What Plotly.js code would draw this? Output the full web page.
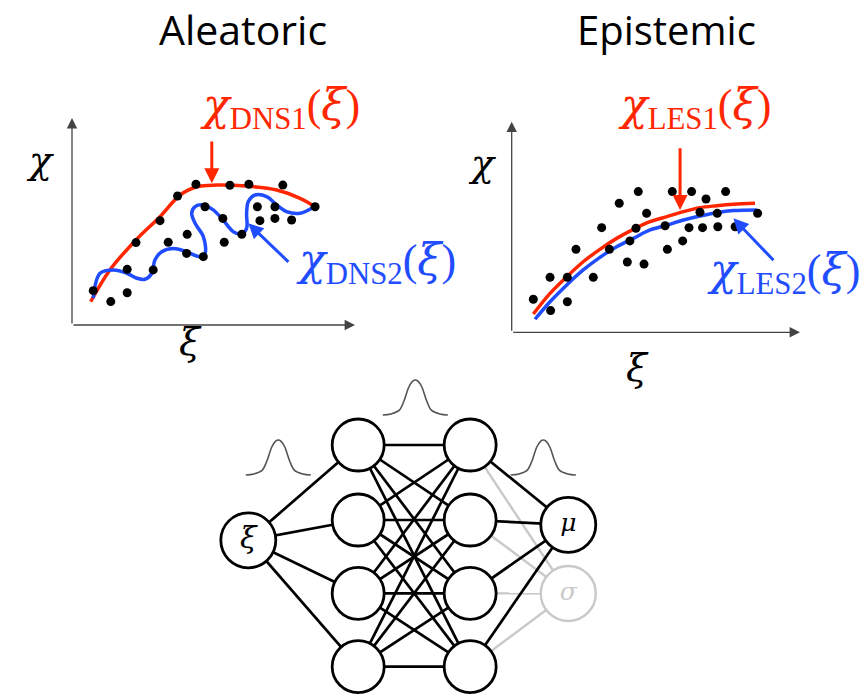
<!DOCTYPE html>
<html><head><meta charset="utf-8">
<script src="https://cdn.plot.ly/plotly-3.0.1.min.js"></script>
<style>html,body{margin:0;padding:0;background:#fff;}#chart{width:866px;height:698px;}</style>
</head><body><div id="chart"></div>
<script>
// ---------- Aleatoric panel (xi, chi in arbitrary units 0-10) ----------
const aleaDotsXi  = [0.75,1.37,1.95,1.95,2.87,2.26,3.40,4.07,4.05,4.64,3.11,3.73,4.38,4.70,5.33,5.38,6.00,5.58,6.25,6.55,6.64,7.17,7.17,7.45,7.76,8.59];
const aleaDotsChi = [1.66,1.13,1.56,2.69,2.66,3.98,4.00,4.38,3.46,3.30,5.04,6.23,6.80,5.71,5.15,4.00,4.38,6.75,6.80,5.71,5.04,5.15,5.71,6.76,5.07,5.71];
const dns1Xi  = [0.66,1.34,2.26,3.11,3.82,4.41,5.11,6.17,7.23,8.06,8.59];
const dns1Chi = [1.13,2.66,4.11,5.23,6.28,6.68,6.76,6.71,6.52,6.12,5.71];
const dns2Xi  = [0.75,0.99,1.47,1.94,2.29,2.58,2.82,2.93,3.17,3.58,4.05,4.52,4.70,4.64,4.35,4.23,4.35,4.64,4.99,5.34,5.70,5.99,6.17,6.17,6.23,6.47,6.88,7.23,7.58,8.06,8.53];
const dns2Chi = [1.29,2.50,2.66,2.50,2.26,2.21,2.50,3.14,3.54,3.70,3.54,3.30,3.46,4.27,4.91,5.40,5.72,5.80,5.56,5.07,4.51,4.40,4.67,5.40,5.96,6.28,6.20,5.80,5.48,5.40,5.69];

// ---------- Epistemic panel ----------
const epiDotsXi  = [0.75,1.35,1.33,1.93,1.93,2.83,2.23,3.12,3.39,3.73,4.01,4.10,4.31,4.39,4.59,4.68,5.32,5.40,5.57,5.93,6.15,6.24,6.53,6.62,6.74,7.13,7.15,7.42,7.75,8.53];
const epiDotsChi = [1.57,1.03,2.61,2.61,1.45,2.61,3.94,4.97,3.94,6.13,3.34,4.34,4.94,6.68,3.24,5.65,5.06,3.94,6.68,4.34,4.97,6.68,5.70,4.97,6.33,5.65,5.01,6.68,5.01,5.65];
const les1Xi  = [0.75,1.33,1.91,2.48,3.06,3.64,4.22,4.80,5.38,5.96,6.53,7.11,7.69,8.44];
const les1Chi = [0.87,1.85,2.64,3.35,3.94,4.46,4.89,5.25,5.49,5.73,5.92,6.01,6.08,6.13];
const les2Xi  = [0.81,1.33,1.91,2.48,3.06,3.64,4.22,4.80,5.38,5.96,6.53,7.11,7.69,8.50];
const les2Chi = [0.62,1.45,2.25,2.96,3.56,4.06,4.46,4.86,5.09,5.33,5.52,5.68,5.78,5.81];

// ---------- Network ----------
const layerX     = [0, 1.03, 2.08, 3];
const hiddenRows = [3, 1.985, 0.993, 0];
const inputRow   = [1.71];
const outputRows = [1.92, 0.99];
const inputLabel = 'ξ';
const outputLabels = ['μ', 'σ'];
const bellShapeX = [-1,-0.75,-0.5,-0.35,-0.2,-0.08,0,0.08,0.2,0.35,0.5,0.75,1];
const bellShapeY = [0,0.03,0.13,0.4,0.8,0.97,1,0.97,0.8,0.4,0.13,0.03,0];
const bellCentersX = [0.281, 1.566, 2.766];
const bellBaseY    = [2.594, 3.406, 2.594];

const RED = '#ff2600', BLUE = '#1f4dff';
const GREEK = 'DejaVu Serif', SERIF = 'Liberation Serif', SANS = 'Open Sans';
const g = s => '<span style="font-family:DejaVu Serif"><i>' + s + '</i></span>';

const traces = [];
function panel(xa, ya, dx, dy, c1x, c1y, c2x, c2y){
  traces.push({type:'scatter',mode:'lines',x:c1x,y:c1y,xaxis:xa,yaxis:ya,line:{color:RED,width:3.5,shape:'spline'},cliponaxis:false,hoverinfo:'skip'});
  traces.push({type:'scatter',mode:'lines',x:c2x,y:c2y,xaxis:xa,yaxis:ya,line:{color:BLUE,width:3.5,shape:'spline'},cliponaxis:false,hoverinfo:'skip'});
  traces.push({type:'scatter',mode:'markers',x:dx,y:dy,xaxis:xa,yaxis:ya,marker:{color:'#000',size:9},cliponaxis:false,hoverinfo:'skip'});
}
panel('x','y',aleaDotsXi,aleaDotsChi,dns1Xi,dns1Chi,dns2Xi,dns2Chi);
panel('x2','y2',epiDotsXi,epiDotsChi,les1Xi,les1Chi,les2Xi,les2Chi);

function edges(fromX, fromYs, toX, toYs){
  const ex=[], ey=[];
  fromYs.forEach(a=>toYs.forEach(b=>{ex.push(fromX,toX,null);ey.push(a,b,null);}));
  return {ex,ey};
}
const eGray = edges(layerX[2],hiddenRows,layerX[3],[outputRows[1]]);
traces.push({type:'scatter',mode:'lines',x:eGray.ex,y:eGray.ey,xaxis:'x3',yaxis:'y3',line:{color:'#c9c9c9',width:2.4},hoverinfo:'skip',cliponaxis:false});
const blk = [edges(layerX[0],inputRow,layerX[1],hiddenRows), edges(layerX[1],hiddenRows,layerX[2],hiddenRows), edges(layerX[2],hiddenRows,layerX[3],[outputRows[0]])];
const bx=[], by=[];
blk.forEach(e=>{bx.push(...e.ex);by.push(...e.ey);});
traces.push({type:'scatter',mode:'lines',x:bx,y:by,xaxis:'x3',yaxis:'y3',line:{color:'#000',width:2.7},hoverinfo:'skip',cliponaxis:false});
const bellHalfW = 0.305, bellH = 0.474;
bellCentersX.forEach((cx,i)=>{
  traces.push({type:'scatter',mode:'lines',x:bellShapeX.map(v=>cx+v*bellHalfW),y:bellShapeY.map(v=>bellBaseY[i]+v*bellH),xaxis:'x3',yaxis:'y3',line:{color:'#555',width:1.6,shape:'spline'},hoverinfo:'skip',cliponaxis:false});
});
const hx=[],hy=[];
[1,2].forEach(l=>hiddenRows.forEach(r=>{hx.push(layerX[l]);hy.push(r);}));
traces.push({type:'scatter',mode:'markers',x:hx,y:hy,xaxis:'x3',yaxis:'y3',marker:{size:52,color:'#fff',line:{color:'#000',width:2.8}},hoverinfo:'skip',cliponaxis:false});
function node(x,y,label,col,lw,fs){
  traces.push({type:'scatter',mode:'markers+text',x:[x],y:[y],text:[g(label)],textposition:'middle center',textfont:{family:GREEK,size:fs,color:col},xaxis:'x3',yaxis:'y3',marker:{size:55,color:'#fff',line:{color:col,width:lw}},hoverinfo:'skip',cliponaxis:false});
}
node(layerX[0],inputRow[0],inputLabel,'#000',2.8,30);
node(layerX[3],outputRows[1],outputLabels[1],'#c9c9c9',2.4,25);
node(layerX[3],outputRows[0],outputLabels[0],'#000',2.8,25);

const ax = (d)=>Object.assign({visible:false,fixedrange:true,showgrid:false,zeroline:false},d);
const annotations = [];
function axisArrows(xr, yr){
  annotations.push({xref:xr,yref:yr,axref:xr,ayref:yr,x:10,y:0,ax:0,ay:0,text:'',showarrow:true,arrowhead:2,arrowsize:1.6,arrowwidth:1.3,arrowcolor:'#444',standoff:0});
  annotations.push({xref:xr,yref:yr,axref:xr,ayref:yr,x:0,y:10,ax:0,ay:0,text:'',showarrow:true,arrowhead:2,arrowsize:1.6,arrowwidth:1.3,arrowcolor:'#444',standoff:0});
}
axisArrows('x','y'); axisArrows('x2','y2');
function pointer(xr,yr,tx,ty,fx,fy,col){
  annotations.push({xref:xr,yref:yr,axref:xr,ayref:yr,x:tx,y:ty,ax:fx,ay:fy,text:'',showarrow:true,arrowhead:2,arrowsize:1,arrowwidth:3,arrowcolor:col,standoff:0});
}
pointer('x','y',4.94,6.85,4.94,8.94,RED);
pointer('x','y',6.23,4.91,7.70,2.98,BLUE);
pointer('x2','y2',5.84,5.81,5.84,8.81,RED);
pointer('x2','y2',7.69,5.41,9.13,3.35,BLUE);

function ptxt(px,py,text,size,color,family){
  annotations.push({xref:'paper',yref:'paper',x:px/866,y:1-py/698,xanchor:'center',yanchor:'middle',text:text,showarrow:false,font:{size:size,color:color,family:family}});
}
ptxt(243,29,'Aleatoric',41,'#000',SANS);
ptxt(666,29,'Epistemic',40,'#000',SANS);
ptxt(40,160,g('χ'),38,'#000',SERIF);
ptxt(190,342,g('ξ'),38,'#000',SERIF);
ptxt(482,163,g('χ'),38,'#000',SERIF);
ptxt(637,368,g('ξ'),38,'#000',SERIF);
const curveLabel = (sub)=> g('χ') + '<sub>' + sub + '</sub>(' + g('ξ') + ')';
ptxt(280,107,curveLabel('DNS1'),44,RED,SERIF);
ptxt(376,262,curveLabel('DNS2'),44,BLUE,SERIF);
ptxt(694,107,curveLabel('LES1'),44,RED,SERIF);
ptxt(783,272,curveLabel('LES2'),44,BLUE,SERIF);

const layout = {
  width:866,height:698,margin:{l:0,r:0,t:0,b:0},paper_bgcolor:'#fff',plot_bgcolor:'rgba(0,0,0,0)',showlegend:false,
  xaxis:ax({domain:[0.08314,0.40993],range:[0,10]}),
  yaxis:ax({domain:[0.53438,0.83095],range:[0,10]}),
  xaxis2:ax({domain:[0.59088,0.92379],range:[0,10]}),
  yaxis2:ax({domain:[0.52393,0.82564],range:[0,10]}),
  xaxis3:ax({domain:[0.23095,0.71594],range:[-0.453,3.485]}),
  yaxis3:ax({domain:[0,0.46991],range:[-0.424,4.015]}),
  annotations:annotations
};
Plotly.newPlot('chart',traces,layout,{displayModeBar:false,staticPlot:true});
</script></body></html>
